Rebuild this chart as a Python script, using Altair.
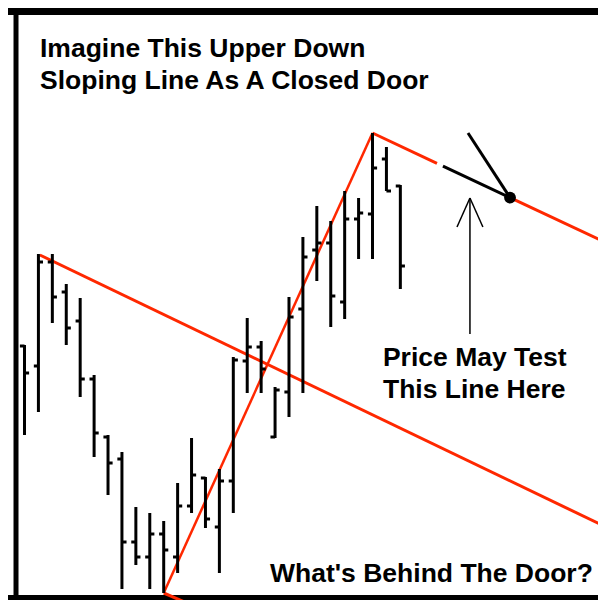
import altair as alt
import pandas as pd

# OHLC bars (price units), index 0..27
highs  = [26.3,35.4,35.4,32.4,31.0,23.3,17.3,15.6,10.1,9.5,8.7,12.5,17.0,13.1,13.9,25.1,29.0,26.7,22.1,31.1,37.1,40.2,38.7,41.7,41.0,47.5,46.1,42.3]
lows   = [17.3,19.6,28.5,26.3,21.1,15.1,11.3,1.9,4.3,1.9,1.5,3.5,9.5,8.0,3.5,9.5,21.5,21.5,17.0,19.1,21.5,32.7,28.1,28.9,34.9,34.9,41.7,31.9]
opens  = [26.2,24.2,34.6,31.6,28.7,22.9,17.1,14.9,6.6,5.1,7.4,5.1,10.2,13.0,8.1,12.7,24.7,26.1,17.1,21.6,29.9,35.8,36.5,30.6,38.9,39.4,44.9,42.2]
closes = [23.5,34.6,31.1,28.0,22.9,17.5,14.5,6.6,5.1,7.4,5.8,10.2,13.3,8.9,12.7,24.8,26.1,23.9,21.8,29.1,35.1,36.5,31.2,38.9,39.5,44.0,41.7,34.2]
idx = list(range(len(highs)))

# trendline / annotation segments: (x, y, x2, y2, color, width)
seg_x  = [1.1, 10.0, 10.0, 25.0, 30.06, 34.88, 34.88, 32.0, 31.07, 32.93]
seg_y  = [35.3, 1.5, 1.5, 47.5, 44.19, 41.04, 41.04, 41.0, 38.1, 38.1]
seg_x2 = [41.775, 25.0, 13.5, 29.63, 34.88, 41.775, 31.86, 32.0, 32.0, 32.0]
seg_y2 = [8.1, 47.5, -0.6, 44.47, 41.04, 36.53, 47.5, 27.4, 41.0, 41.0]
RED = "#ff2800"
seg_c  = [RED, RED, RED, RED, "black", RED, "black", "black", "black", "black"]
seg_w  = [3, 2.5, 3, 3, 3, 3, 3, 1.5, 1.5, 1.5]

# door hinge dot
dot_x = [34.88]
dot_y = [41.04]

# frame (top, left, bottom)
frame_x  = [-1.19, -0.61, -1.19]
frame_y  = [59.65, 60.5, 1.05]
frame_x2 = [41.8, -0.61, 41.8]
frame_y2 = [59.65, 0.5, 1.05]
frame_w  = [7, 5, 5]

# texts
txt = ["Imagine This Upper Down", "Sloping Line As A Closed Door",
       "Price May Test", "This Line Here", "What's Behind The Door?"]
txt_x = [1.113, 1.113, 25.75, 25.75, 17.64]
txt_y = [55.1, 51.9, 24.2, 21.0, 2.6]

XD = [-1.1853, 41.199]
YD = [0.8, 60]
xs = alt.Scale(domain=XD, nice=False, zero=False)
ys = alt.Scale(domain=YD, nice=False, zero=False)

bars = pd.DataFrame({"i": idx, "h": highs, "l": lows, "o": opens, "c": closes})
segs = pd.DataFrame({"x": seg_x, "y": seg_y, "x2": seg_x2, "y2": seg_y2, "c": seg_c, "w": seg_w})
dots = pd.DataFrame({"x": dot_x, "y": dot_y})
frame = pd.DataFrame({"x": frame_x, "y": frame_y, "x2": frame_x2, "y2": frame_y2, "w": frame_w})
texts = pd.DataFrame({"t": txt, "x": txt_x, "y": txt_y})

hl = alt.Chart(bars).mark_rule(color="black", strokeWidth=3, clip=True).encode(
    x=alt.X("i:Q", scale=xs, axis=None),
    y=alt.Y("h:Q", scale=ys, axis=None),
    y2="l:Q",
)
otick = alt.Chart(bars).transform_calculate(xl="datum.i - 0.33").mark_rule(
    color="black", strokeWidth=3, clip=True).encode(
    x=alt.X("xl:Q", scale=xs, axis=None), x2="i:Q",
    y=alt.Y("o:Q", scale=ys, axis=None),
)
ctick = alt.Chart(bars).transform_calculate(xr="datum.i + 0.33").mark_rule(
    color="black", strokeWidth=3, clip=True).encode(
    x=alt.X("i:Q", scale=xs, axis=None), x2="xr:Q",
    y=alt.Y("c:Q", scale=ys, axis=None),
)
lines = alt.Chart(segs).mark_rule(clip=True).encode(
    x=alt.X("x:Q", scale=xs, axis=None), x2="x2:Q",
    y=alt.Y("y:Q", scale=ys, axis=None), y2="y2:Q",
    color=alt.Color("c:N", scale=None),
    strokeWidth=alt.StrokeWidth("w:Q", scale=None),
)
dot = alt.Chart(dots).mark_circle(color="black", opacity=1, size=140, clip=True).encode(
    x=alt.X("x:Q", scale=xs, axis=None),
    y=alt.Y("y:Q", scale=ys, axis=None),
)
fr = alt.Chart(frame).mark_rule(color="black", clip=True).encode(
    x=alt.X("x:Q", scale=xs, axis=None), x2="x2:Q",
    y=alt.Y("y:Q", scale=ys, axis=None), y2="y2:Q",
    strokeWidth=alt.StrokeWidth("w:Q", scale=None),
)
labels = alt.Chart(texts).mark_text(
    align="left", baseline="alphabetic", font="Liberation Sans",
    fontWeight="bold", fontSize=26.5, color="black",
).encode(
    x=alt.X("x:Q", scale=xs, axis=None),
    y=alt.Y("y:Q", scale=ys, axis=None),
    text="t:N",
)

chart = alt.layer(fr, lines, hl, otick, ctick, dot, labels).properties(
    width=590, height=592, padding=0, background="white"
).configure_view(stroke=None)

chart.save("out.html", embed_options={"renderer": "svg", "actions": False})
